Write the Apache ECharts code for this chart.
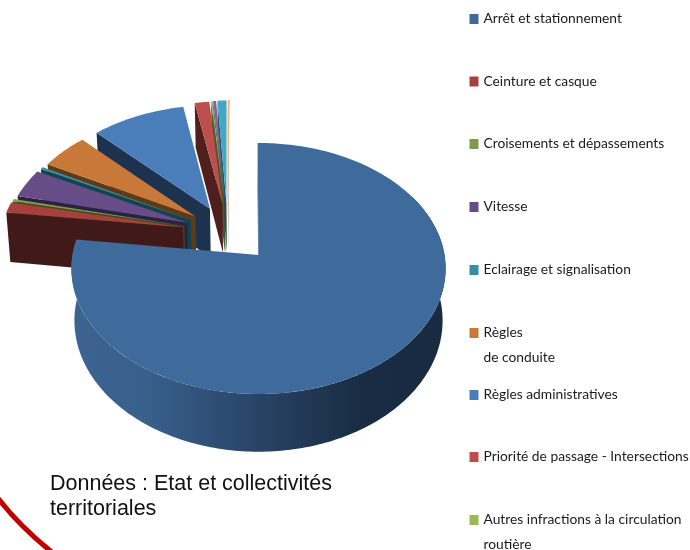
<!DOCTYPE html>
<html>
<head>
<meta charset="utf-8">
<style>html,body{margin:0;padding:0;background:#fff}#c{width:690px;height:550px}</style>
<script src="https://cdn.jsdelivr.net/npm/echarts@6/dist/echarts.min.js"></script>
</head>
<body>
<div id="c"></div>
<script>
// Infractions par catégorie, en pourcentage du total
const categories = ['Arrêt et stationnement','Ceinture et casque','Croisements et dépassements','Vitesse','Eclairage et signalisation','Règles de conduite','Règles administratives','Priorité de passage - Intersections','Autres infractions à la circulation routière','Catégorie 10','Catégorie 11','Catégorie 12'];
const values = [77.1,1.4,0.35,3.8,0.3,4.75,9.3,1.45,0.15,0.3,0.9,0.2];
const legendLabels = ['Arrêt et stationnement','Ceinture et casque','Croisements et dépassements','Vitesse','Eclairage et signalisation','\nRègles\nde conduite','Règles administratives','Priorité de passage - Intersections','\nAutres infractions à la circulation\nroutière'];
const topColors = ['#3F6A9C','#A5403D','#7F9B47','#674D87','#358EA8','#C8793A','#4A7EBB','#BC4F4D','#98B954','#8064A2','#43A7C4','#F5B57F'];
const wallColors = ['#1b3049','#3f1a18','#3d4a20','#2e2040','#12444f','#5f3a16','#1d324e','#4f1f1e','#4a5a25','#3e304f','#215560','#7a4a20'];

// Projection en perspective du disque : plan (X vers la droite, Y vers le fond), z = épaisseur
const view = {x0: 258.5, y0: 255, rx: 186, ry: 124.05, tilt: 0.1076, depth: 51.5, taper: 0.016};
const explode = {radius: 0.475, towards: 318};
const startBearing = -0.3;

function project(X, Y, z) {
  const w = 1 + view.tilt * Y;
  return [
    view.x0 + view.rx * X / w * (1 - view.taper * z),
    view.y0 - view.ry * Y / w + view.depth * z / w
  ];
}
const rad = d => d * Math.PI / 180;
const total = values.reduce((a, b) => a + b, 0);
const bearings = [];
values.reduce((acc, v) => {
  const next = acc + v / total * 360;
  bearings.push([acc, next]);
  return next;
}, startBearing);

function sliceGeometry(i) {
  const [a0, a1] = bearings[i];
  let ax = 0, ay = 0;
  if (i > 0) {
    const dir = rad(((a0 + a1) / 2 + explode.towards) / 2);
    ax = explode.radius * Math.sin(dir);
    ay = explode.radius * Math.cos(dir);
  }
  const rim = (b, z) => project(ax + Math.sin(rad(b)), ay + Math.cos(rad(b)), z);
  const apex = z => project(ax, ay, z);
  return {a0, a1, rim, apex};
}

function arc(rim, from, to, z) {
  const pts = [], n = Math.max(2, Math.ceil(Math.abs(to - from)));
  for (let k = 0; k <= n; k++) pts.push(rim(from + (to - from) * k / n, z));
  return pts;
}

function renderSlice(i) {
  return function () {
    const g = sliceGeometry(i);
    const children = [];
    // Paroi de coupe côté début de secteur
    children.push({
      type: 'polygon',
      shape: {points: [g.rim(g.a0, 0), g.apex(0), g.apex(1), g.rim(g.a0, 1)]},
      style: {fill: wallColors[i]}
    });
    if (i === 0) {
      // Paroi extérieure visible du disque principal
      const from = 60, to = g.a1;
      children.push({
        type: 'polygon',
        shape: {points: arc(g.rim, from, to, 0).concat(arc(g.rim, to, from, 1))},
        style: {fill: new echarts.graphic.LinearGradient(0, 0, 1, 0, [
          {offset: 0, color: '#3d6491'},
          {offset: 0.2, color: '#38608b'},
          {offset: 0.4, color: '#2d4d73'},
          {offset: 0.55, color: '#263f5e'},
          {offset: 0.78, color: '#182c43'},
          {offset: 1, color: '#182b41'}
        ])}
      });
    }
    children.push({
      type: 'polygon',
      shape: {points: [g.apex(0)].concat(arc(g.rim, g.a0, g.a1, 0))},
      style: {fill: topColors[i]}
    });
    return {type: 'group', children};
  };
}

const legendCentres = [19, 81.5, 144, 207, 270, 333, 395, 457, 520];

const option = {
  animation: false,
  backgroundColor: '#fff',
  title: {
    text: 'Données : Etat et collectivités\nterritoriales',
    left: 50, top: 472, padding: 0,
    textStyle: {fontFamily: 'Liberation Sans', fontSize: 21.5, fontWeight: 'normal', color: '#111', lineHeight: 25}
  },
  legend: legendLabels.map((label, i) => {
    const lines = label.split('\n').length;
    return {
      data: [categories[i]],
      left: 469.5,
      top: legendCentres[i] - 12.5 * lines,
      padding: 0,
      icon: 'rect',
      itemWidth: 9,
      itemHeight: 10,
      selectedMode: false,
      formatter: () => label,
      textStyle: {fontFamily: 'Lato', fontSize: 13.8, color: '#1a1a1a', lineHeight: 25}
    };
  }),
  graphic: [{
    type: 'bezierCurve',
    shape: {x1: -3, y1: 497, x2: 53, y2: 553, cpx1: 20, cpy1: 527},
    style: {stroke: '#c00000', lineWidth: 5, fill: null}
  }],
  series: categories.map((name, i) => ({
    type: 'custom',
    name,
    coordinateSystem: 'none',
    z: i === 0 ? 40 : 30 - i,
    silent: true,
    itemStyle: {color: topColors[i]},
    renderItem: renderSlice(i),
    data: [values[i]]
  }))
};

echarts.init(document.getElementById('c'), null, {renderer: 'canvas'}).setOption(option);
</script>
</body>
</html>
